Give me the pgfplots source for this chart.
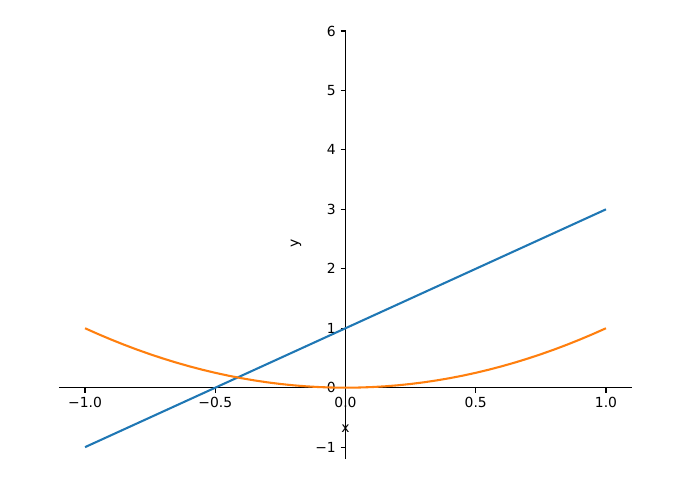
\documentclass[border=0pt]{standalone}
\usepackage{fontspec}
\setmainfont{DejaVu Sans}
\usepackage{pgfplots}
\pgfplotsset{compat=1.18}
\definecolor{mplblue}{HTML}{1F77B4}
\definecolor{mplorange}{HTML}{FF7F0E}
\begin{document}
\begin{tikzpicture}
\begin{axis}[
  scale only axis,
  width=412.6pt, height=308.2pt,
  axis lines=middle,
  axis line style={-, line width=0.8pt},
  xmin=-1.1, xmax=1.1,
  ymin=-1.2, ymax=6,
  xtick={-1,-0.5,0,0.5,1},
  xticklabels={−1.0,−0.5,0.0,0.5,1.0},
  ytick={-1,0,1,2,3,4,5,6},
  yticklabels={−1,0,1,2,3,4,5,6},
  hide obscured x ticks=false,
  hide obscured y ticks=false,
  tick align=outside,
  major tick length=3.5pt,
  tick style={line width=0.8pt, black},
  tick label style={font=\fontsize{10}{12}\selectfont},
  clip=false,
]
  \addplot[mplblue, line width=1.5pt] coordinates {(-1,-1) (1,3)};
  \addplot[mplorange, line width=1.5pt] coordinates {
    (-1,1) (-0.95,0.9025) (-0.9,0.81) (-0.85,0.7225) (-0.8,0.64) (-0.75,0.5625)
    (-0.7,0.49) (-0.65,0.4225) (-0.6,0.36) (-0.55,0.3025) (-0.5,0.25)
    (-0.45,0.2025) (-0.4,0.16) (-0.35,0.1225) (-0.3,0.09) (-0.25,0.0625)
    (-0.2,0.04) (-0.15,0.0225) (-0.1,0.01) (-0.05,0.0025) (0,0)
    (0.05,0.0025) (0.1,0.01) (0.15,0.0225) (0.2,0.04) (0.25,0.0625)
    (0.3,0.09) (0.35,0.1225) (0.4,0.16) (0.45,0.2025) (0.5,0.25)
    (0.55,0.3025) (0.6,0.36) (0.65,0.4225) (0.7,0.49) (0.75,0.5625)
    (0.8,0.64) (0.85,0.7225) (0.9,0.81) (0.95,0.9025) (1,1)
  };
  \node[font=\fontsize{10}{12}\selectfont] at ([yshift=-29.5pt]axis cs:0,0) {x};
  \node[font=\fontsize{10}{12}\selectfont, rotate=90] at ([xshift=-35.6pt]axis cs:0,2.43) {y};
\end{axis}
\path ([xshift=-42.48pt,yshift=-23.76pt]current axis.south west)
  rectangle ([xshift=47.52pt,yshift=22.32pt]current axis.north east);
\end{tikzpicture}
\end{document}
